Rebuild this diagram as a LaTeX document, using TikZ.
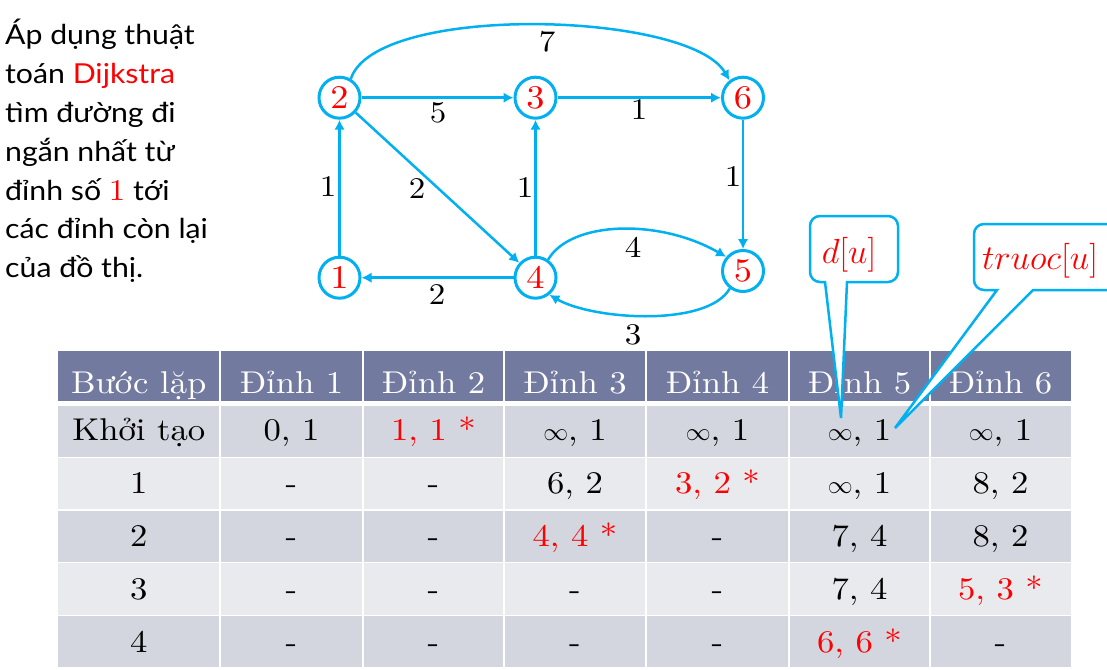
\documentclass[tikz,border=0pt]{standalone}
\usepackage{fontspec}
\newfontfamily\leftfont{Lato}[FakeStretch=1.1]
\newfontfamily\wlm{lmroman10-regular.otf}[FakeStretch=1.1]
\usetikzlibrary{arrows.meta}
\definecolor{cy}{RGB}{0,176,240}
\definecolor{hdr}{RGB}{115,122,160}
\definecolor{rowdark}{RGB}{211,214,223}
\definecolor{rowlight}{RGB}{233,234,238}
\newcommand\inff{$\infty$}
\begin{document}
\begin{tikzpicture}[x=1pt,y=1pt,
  vtx/.style={circle, draw=cy, line width=3pt, minimum size=41pt, inner sep=0pt, text=red, font=\wlm\fontsize{33}{33}\selectfont},
  edge/.style={draw=cy, line width=2.5pt, -{Latex[length=10pt,width=10.5pt]}},
  elabel/.style={font=\wlm\fontsize{30}{30}\selectfont, inner sep=0pt},
  cellt/.style={anchor=base, inner sep=0pt, font=\wlm\fontsize{31.5}{31.5}\selectfont},
  hcell/.style={cellt, text=white},
  callbox/.style={fill=white, draw=cy, line width=2.5pt},
  calltext/.style={inner sep=0pt, text=red, font=\fontsize{24.88}{30}\selectfont}]
\useasboundingbox (0,0) rectangle (1107,-669);
\clip (0,0) rectangle (1107,-669);

% intro text
\node[anchor=base west, inner sep=0pt, font=\leftfont\fontsize{27.5}{38.8}\selectfont] (intro) at (5,-45)
 {\vtop{\baselineskip=38.8pt\lineskiplimit=-100pt
  \hbox{Áp dụng thuật}
  \hbox{toán \textcolor{red}{Dijkstra}}
  \hbox{tìm đường đi}
  \hbox{ngắn nhất từ}
  \hbox{đỉnh số \textcolor{red}{\wlm\fontsize{30}{30}\selectfont 1} tới}
  \hbox{các đỉnh còn lại}
  \hbox{của đồ thị.}}};

% graph
\node[vtx] (n2) at (339.5,-97.7) {2};
\node[vtx] (n3) at (535.5,-97.7) {3};
\node[vtx] (n6) at (743,-97.7) {6};
\node[vtx] (n1) at (339.5,-277.7) {1};
\node[vtx] (n4) at (535.5,-277.7) {4};
\node[vtx] (n5) at (743,-271) {5};

\draw[edge] (n1) -- (n2);
\draw[edge] (n2) -- (n3);
\draw[edge] (n3) -- (n6);
\draw[edge] (n6) -- (n5);
\draw[edge] (n2) -- (n4);
\draw[edge] (n4) -- (n3);
\draw[edge] (n4) -- (n1);
\draw[edge] (n2.59) to[out=72,in=120,out distance=80pt,in distance=80pt] (n6.128);
\draw[edge] (n4.55) to[out=60,in=150,out distance=45pt,in distance=77pt] (n5.140);
\draw[edge] (n5.233) to[out=240,in=330,out distance=45pt,in distance=50pt] (n4.309);

\node[elabel] (w26) at (547,-42) {7};
\node[elabel] (w23) at (438,-113) {5};
\node[elabel] (w36) at (639,-110) {1};
\node[elabel] (w65) at (733,-177) {1};
\node[elabel] (w12) at (328,-187) {1};
\node[elabel] (w24) at (417,-189) {2};
\node[elabel] (w43) at (525,-188) {1};
\node[elabel] (w41) at (437,-295) {2};
\node[elabel] (w45) at (633,-247) {4};
\node[elabel] (w54) at (633,-335) {3};

% table backgrounds
\fill[hdr] (57.5,-351) rectangle (1071,-401);
\foreach \i/\c in {0/rowdark,1/rowlight,2/rowdark,3/rowlight,4/rowdark}{
  \fill[\c] (57.5,{-405.5-52.6*\i}) rectangle (1071,{-456.8-52.6*\i});
}
\foreach \b in {220,363,504,646,789,930}{
  \draw[white, line width=2pt] (\b,-350) -- (\b,-669);
}

% header
\node[hcell] (h0) at (138.8,-393) {Bước lặp};
\node[hcell] (h1) at (291.5,-393) {Đỉnh 1};
\node[hcell] (h2) at (433.5,-393) {Đỉnh 2};
\node[hcell] (h3) at (575,-393) {Đỉnh 3};
\node[hcell] (h4) at (717.5,-393) {Đỉnh 4};
\node[hcell] (h5) at (859.5,-393) {Đỉnh 5};
\node[hcell] (h6) at (1000.5,-393) {Đỉnh 6};

% rows
\foreach \r/\a/\b/\c/\d/\e/\f [count=\k from 0] in {
  {Khởi tạo}/{0, 1}/{\textcolor{red}{1, 1 *}}/{\inff, 1}/{\inff, 1}/{\inff, 1}/{\inff, 1},
  1/-/-/{6, 2}/{\textcolor{red}{3, 2 *}}/{\inff, 1}/{8, 2},
  2/-/-/{\textcolor{red}{4, 4 *}}/-/{7, 4}/{8, 2},
  3/-/-/-/-/{7, 4}/{\textcolor{red}{5, 3 *}},
  4/-/-/-/-/{\textcolor{red}{6, 6 *}}/-}{
  \node[cellt] (c\k-0) at (138.8,{-440-53*\k}) {\r};
  \node[cellt] (c\k-1) at (291.5,{-440-53*\k}) {\a};
  \node[cellt] (c\k-2) at (433.5,{-440-53*\k}) {\b};
  \node[cellt] (c\k-3) at (575,{-440-53*\k}) {\c};
  \node[cellt] (c\k-4) at (717.5,{-440-53*\k}) {\d};
  \node[cellt] (c\k-5) at (859.5,{-440-53*\k}) {\e};
  \node[cellt] (c\k-6) at (1000.5,{-440-53*\k}) {\f};
}

% callouts
\coordinate (tipd) at (841,-418);
\coordinate (tipt) at (895,-428);
\filldraw[callbox] (tipd) -- (825,-282) [rounded corners=10pt] -- (810,-282) -- (810,-216) -- (898,-216) -- (898,-282) [sharp corners] -- (847,-282) -- cycle;
\node[calltext] (du) at (849,-255) {\scalebox{1.4}{$d[u]$}};
\filldraw[callbox] (tipt) -- (997,-290) [rounded corners=10pt] -- (974,-290) -- (974,-224) -- (1130,-224) -- (1130,-290) [sharp corners] -- (1033,-290) -- cycle;
\node[calltext] (tu) at (1040,-261) {\scalebox{1.4}{$truoc[u]$}};
\end{tikzpicture}
\end{document}
